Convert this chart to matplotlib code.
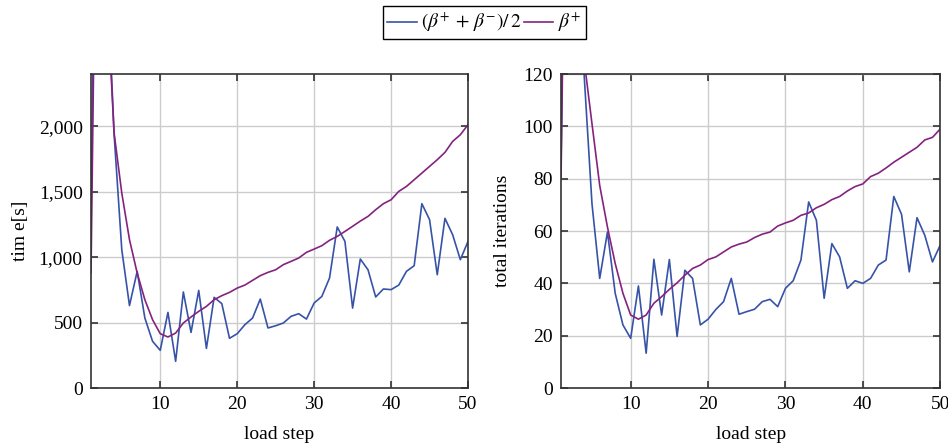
import matplotlib
matplotlib.use('Agg')
import matplotlib.pyplot as plt
from matplotlib.ticker import FuncFormatter
import numpy as np

# load steps 1..50
steps = np.arange(1, 51)

# wall time [s]
time_avg = [1300, 5900, 3300, 1940, 1057, 630, 892, 535, 357, 288,
            578, 204, 734, 425, 746, 303, 693, 645, 380, 415,
            484, 535, 680, 459, 476, 497, 548, 568, 527, 650,
            700, 841, 1231, 1121, 611, 986, 904, 696, 757, 752,
            787, 892, 935, 1409, 1287, 866, 1297, 1172, 981, 1121]
time_plus = [880, 5600, 3100, 1950, 1490, 1134, 879, 675, 522, 415,
             390, 420, 497, 543, 586, 624, 675, 706, 731, 764,
             787, 823, 859, 884, 904, 943, 968, 994, 1037, 1062,
             1088, 1129, 1159, 1197, 1236, 1276, 1312, 1363, 1409, 1439,
             1503, 1541, 1592, 1643, 1694, 1745, 1801, 1885, 1936, 2013]

# total iterations
iter_avg = [85, 320, 200, 119, 70.4, 41.9, 59.6, 36.2, 24.1, 19,
            39, 13.3, 49.2, 27.9, 49.1, 19.7, 45, 41.9, 24.1, 26.3,
            30, 33, 41.9, 28.2, 29.2, 30.1, 33, 33.9, 31.1, 38.1,
            41, 48.9, 71.1, 64.1, 34.3, 55.2, 50.1, 38.1, 41, 40,
            41.9, 47, 48.9, 73.2, 66.4, 44.4, 65.1, 58.4, 48.2, 54.6]
iter_plus = [80, 300, 190, 125, 101, 77.4, 61.5, 47.6, 36.2, 27.9,
             26.3, 27.9, 32.4, 34.9, 37.7, 40.2, 43.1, 45.7, 47, 49.1,
             50.1, 52, 53.9, 55, 55.8, 57.5, 58.8, 59.6, 61.9, 63.1,
             64.1, 66, 66.9, 68.9, 70.2, 72, 73.2, 75.3, 77, 78,
             80.8, 82.1, 84.1, 86.3, 88.2, 90.1, 92, 94.8, 95.8, 99]

plt.rcParams['font.family'] = ['Liberation Serif', 'DejaVu Serif']
plt.rcParams['mathtext.fontset'] = 'stix'
plt.rcParams['font.size'] = 14

blue = '#3753a8'
purple = '#84237f'

fig = plt.figure(figsize=(9.48, 4.46), dpi=100)
ax1 = fig.add_axes([0.096, 0.130, 0.3977, 0.704])
ax2 = fig.add_axes([0.5918, 0.130, 0.400, 0.704])


def style(ax):
    ax.set_xlim(1, 50)
    ax.set_xticks([10, 20, 30, 40, 50])
    ax.grid(True, color='#cccccc', lw=1.0)
    ax.set_axisbelow(True)
    ax.tick_params(direction='in', top=True, right=True, length=5,
                   width=1.2, color='#333333', labelsize=14, pad=6)
    for sp in ax.spines.values():
        sp.set_color('#333333')
        sp.set_linewidth(1.2)
    ax.set_xlabel('load step', fontsize=14, labelpad=9)


l1, = ax1.plot(steps, time_avg, color=blue, lw=1.2)
l2, = ax1.plot(steps, time_plus, color=purple, lw=1.2)
ax1.set_ylim(0, 2400)
ax1.set_yticks([0, 500, 1000, 1500, 2000])
ax1.yaxis.set_major_formatter(FuncFormatter(lambda v, p: f'{int(v):,}'))
ax1.set_ylabel('tim e[s]', fontsize=14, labelpad=7)
style(ax1)

ax2.plot(steps, iter_avg, color=blue, lw=1.2)
ax2.plot(steps, iter_plus, color=purple, lw=1.2)
ax2.set_ylim(0, 120)
ax2.set_yticks([0, 20, 40, 60, 80, 100, 120])
ax2.set_ylabel('total iterations', fontsize=14, labelpad=9)
style(ax2)

leg = fig.legend([l1, l2], [r'$(\beta^{+}\,+\,\beta^{-})/\,2$', r'$\beta^{+}$'],
                 loc='upper center', bbox_to_anchor=(0.511, 0.9865), ncol=2,
                 frameon=True, fancybox=False, edgecolor='black', framealpha=1,
                 handlelength=1.5, handletextpad=0.25, columnspacing=0.1,
                 borderpad=0.25, borderaxespad=0, fontsize=14)
leg.get_frame().set_linewidth(1.0)

fig.savefig('out.png', dpi=100)
